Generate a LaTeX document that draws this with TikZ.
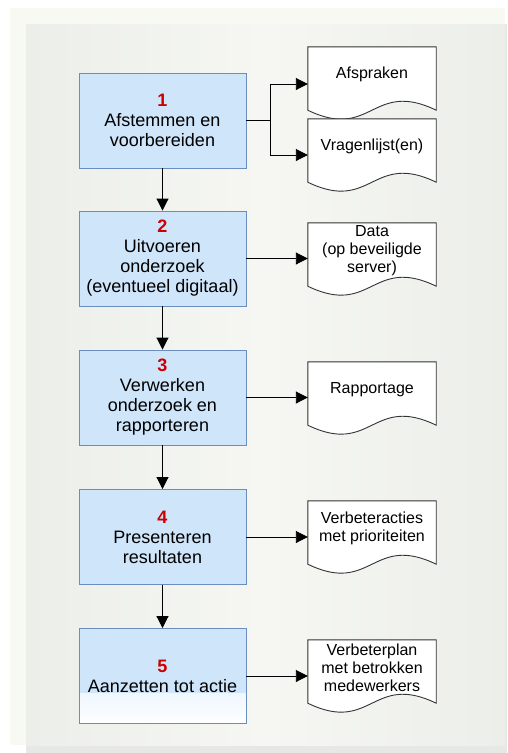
\documentclass[tikz,border=0pt]{standalone}
\usepackage{fontspec}
\setmainfont{Liberation Sans}
\usetikzlibrary{arrows.meta}

\definecolor{boxblue}{HTML}{CFE5FA}
\definecolor{boxedge}{HTML}{6A8EBF}
\definecolor{stepred}{HTML}{CC0000}
\definecolor{outerbg}{HTML}{F8F9F3}
\definecolor{innerbg}{HTML}{ECEEE9}
\definecolor{innerlight}{HTML}{F6F7F3}
\definecolor{shadowbg}{HTML}{E7E8E5}

\tikzset{
  stepbox/.style={shape=rectangle, draw=boxedge, fill=boxblue, line width=0.9pt,
    minimum width=167pt, minimum height=95pt, align=center, inner sep=0pt,
    font=\fontsize{18}{20}\selectfont},
  stepfade/.style={stepbox, path picture={
    \shade[top color=boxblue, bottom color=white]
      ([yshift=30pt]path picture bounding box.south west) rectangle
      ([yshift=-2pt]path picture bounding box.south east);}},
  docnode/.style={shape=rectangle, minimum width=128pt, minimum height=55pt,
    align=center, inner sep=0pt, font=\fontsize{16}{18}\selectfont},
  docline/.style={draw=black!80, fill=white, line width=0.9pt},
  flow/.style={line width=0.9pt, -{Triangle[length=12pt,width=12pt]}},
}
\newcommand{\docoutline}[1]{%
  \path[docline] ([yshift=-8pt]#1.south west) -- (#1.north west) -- (#1.north east)
    -- ([yshift=-8pt]#1.south east)
    .. controls +(-64,-31) and +(64,31) .. ([yshift=-8pt]#1.south west) -- cycle;}
\newcommand{\stepnr}[1]{{\bfseries\color{stepred}#1}}

\begin{document}
\begin{tikzpicture}[x=1pt, y=-1pt]
        % background panel
        \useasboundingbox (0,0) rectangle (507,753);
        \fill[white] (0,0) rectangle (507,753);
        \fill[outerbg] (10,8) rectangle (505,745);
        \fill[shadowbg] (26,745) rectangle (507,753);
        \fill[shadowbg] (505,24) rectangle (507,753);
        \shade[left color=innerbg, right color=innerbg, middle color=innerlight] (26,24) rectangle (505,745);

        % steps
        \node[stepbox] (stap1) at (162.5,120.5) {\stepnr{1}\\Afstemmen en\\voorbereiden};
        \node[stepbox] (stap2) at (162.5,258.5) {\stepnr{2}\\Uitvoeren\\onderzoek\\(eventueel digitaal)};
        \node[stepbox] (stap3) at (162.5,397.5) {\stepnr{3}\\Verwerken\\onderzoek en\\rapporteren};
        \node[stepbox] (stap4) at (162.5,537) {\stepnr{4}\\Presenteren\\resultaten};
        \node[stepfade] (stap5) at (162.5,676) {\stepnr{5}\\Aanzetten tot actie};

        % documents
        \node[docnode] (afspraken) at (372,74.5) {};
        \node[docnode] (vragen) at (372,146.5) {};
        \node[docnode] (data) at (372,250.5) {};
        \node[docnode] (rapport) at (372,389.5) {};
        \node[docnode] (acties) at (372,528.5) {};
        \node[docnode] (plan) at (372,667.5) {};
        \docoutline{afspraken}
        \docoutline{vragen}
        \docoutline{data}
        \docoutline{rapport}
        \docoutline{acties}
        \docoutline{plan}
        \node[docnode] at (afspraken) {Afspraken};
        \node[docnode] at (vragen) {Vragenlijst(en)};
        \node[docnode] at (data) {Data\\(op beveiligde\\server)};
        \node[docnode] at (rapport) {Rapportage};
        \node[docnode] at (acties) {Verbeteracties\\met prioriteiten};
        \node[docnode] at (plan) {Verbeterplan\\met betrokken\\medewerkers};

        \coordinate (splits) at (270,120.5);

        \path[flow]
        (stap1) edge (stap2)
        (stap2) edge (stap3)
        (stap3) edge (stap4)
        (stap4) edge (stap5)
        (stap2.east) edge (stap2.east -| data.west)
        (stap3.east) edge (stap3.east -| rapport.west)
        (stap4.east) edge (stap4.east -| acties.west)
        (stap5.east) edge (stap5.east -| plan.west)
        ;

        \draw[line width=0.9pt] (stap1.east) -- (splits);
        \draw[flow] (splits) |- ([yshift=-9.5pt]afspraken.west);
        \draw[flow] (splits) |- ([yshift=-8.5pt]vragen.west);
        \end{tikzpicture}
\end{document}
